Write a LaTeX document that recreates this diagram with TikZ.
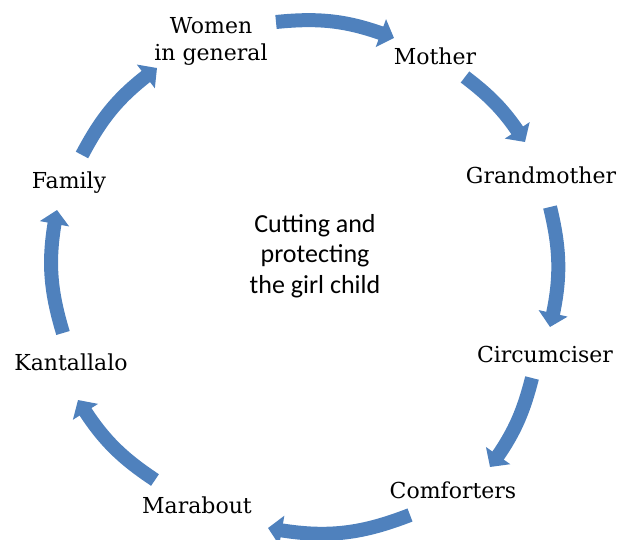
\documentclass[tikz,border=0pt]{standalone}
\usepackage{fontspec}
\setmainfont{DejaVu Serif}
\newfontfamily\centerfont{Carlito}
\usetikzlibrary{arrows.meta,bending}
\definecolor{cycleblue}{RGB}{79,129,189}
\begin{document}
\begin{tikzpicture}[x=1pt,y=1pt,
  role/.style={font=\fontsize{22}{27}\selectfont, inner sep=0pt, anchor=base, align=center},
  flow/.style={draw=cycleblue, line width=14pt, -{Triangle[width=29pt,length=14pt]}},
]
\useasboundingbox (0,0) rectangle (619,-539);

% actors around the cycle (base = baseline of the last line)
\node[role] (women) at (211,-60) {Women\\in general};
\node[role] (mother) at (435,-64) {Mother};
\node[role] (grand) at (541,-183) {Grandmother};
\node[role] (circ) at (545,-362) {Circumciser};
\node[role] (comf) at (453,-498) {Comforters};
\node[role] (mara) at (197,-513) {Marabout};
\node[role] (kant) at (71,-370) {Kantallalo};
\node[role] (fam) at (69,-188) {Family};

% centre caption
\node[font=\centerfont\fontsize{26}{30.5}\selectfont, align=center, anchor=base, inner sep=0pt]
  (core) at (315,-293) {Cutting and\\protecting\\the girl child};

% arrow end points
\coordinate (w-out) at (276,-22);  \coordinate (m-in) at (394,-38);
\coordinate (m-out) at (465,-77);  \coordinate (g-in) at (525,-142);
\coordinate (g-out) at (550,-207); \coordinate (ci-in) at (550,-327);
\coordinate (ci-out) at (532,-378);\coordinate (co-in) at (490,-467);
\coordinate (co-out) at (410,-515);\coordinate (ma-in) at (268,-528);
\coordinate (ma-out) at (155,-480);\coordinate (k-in) at (78,-400);
\coordinate (k-out) at (63,-333);  \coordinate (f-in) at (57,-210);
\coordinate (f-out) at (82,-155);  \coordinate (w-in) at (157,-68);

% curved arrows, clockwise
\draw[flow] (w-out) to[bend left=13.5] (m-in);
\draw[flow] (m-out) to[bend left=10] (g-in);
\draw[flow] (g-out) to[bend left=13.7] (ci-in);
\draw[flow] (ci-out) to[bend left=11] (co-in);
\draw[flow] (co-out) to[bend left=16] (ma-in);
\draw[flow] (ma-out) to[bend left=12.5] (k-in);
\draw[flow] (k-out) to[bend left=14] (f-in);
\draw[flow] (f-out) to[bend left=13] (w-in);
\end{tikzpicture}
\end{document}
